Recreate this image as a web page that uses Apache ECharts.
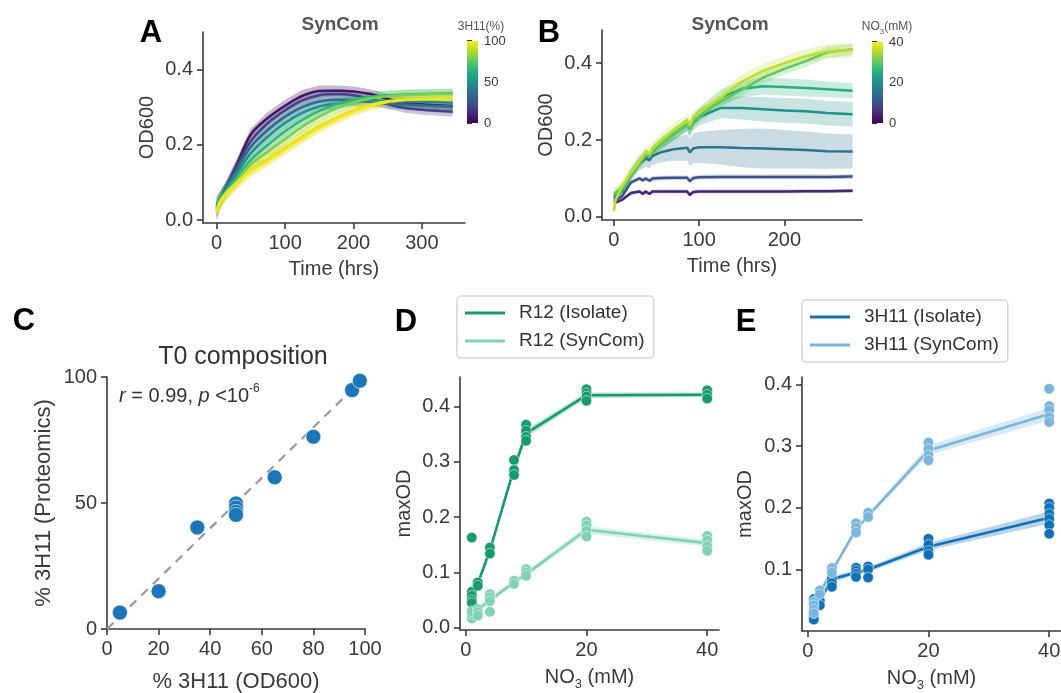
<!DOCTYPE html>
<html>
<head>
<meta charset="utf-8">
<script src="https://cdn.jsdelivr.net/npm/echarts@6/dist/echarts.min.js"></script>
<style>
  html, body { margin: 0; padding: 0; background: #fff; }
  #main { width: 1061px; height: 693px; }
</style>
</head>
<body>
<div id="main"></div>
<script>
// ---------- data ----------
// A: SynCom growth curves, one row per starting 3H11 %
var A_TIME = [0, 5, 15, 30, 50, 75, 100, 125, 150, 175, 200, 225, 250, 275, 300, 325, 345];
var A_PCT = [5, 20, 35, 50, 65, 80, 95, 98];
var A_OD = [
  [0.025, 0.05, 0.09, 0.15, 0.228, 0.272, 0.304, 0.33, 0.343, 0.344, 0.342, 0.335, 0.322, 0.312, 0.308, 0.305, 0.303],
  [0.03, 0.055, 0.09, 0.145, 0.21, 0.258, 0.292, 0.318, 0.332, 0.335, 0.332, 0.322, 0.308, 0.298, 0.293, 0.29, 0.288],
  [0.035, 0.055, 0.088, 0.135, 0.195, 0.24, 0.275, 0.3, 0.315, 0.32, 0.318, 0.314, 0.31, 0.307, 0.305, 0.303, 0.302],
  [0.04, 0.058, 0.085, 0.125, 0.178, 0.222, 0.258, 0.285, 0.302, 0.31, 0.315, 0.317, 0.317, 0.315, 0.314, 0.313, 0.312],
  [0.035, 0.055, 0.08, 0.115, 0.16, 0.2, 0.236, 0.266, 0.29, 0.308, 0.32, 0.328, 0.332, 0.334, 0.335, 0.336, 0.337],
  [0.03, 0.05, 0.075, 0.105, 0.148, 0.182, 0.215, 0.248, 0.275, 0.297, 0.313, 0.323, 0.329, 0.332, 0.334, 0.335, 0.335],
  [0.025, 0.05, 0.075, 0.1, 0.135, 0.163, 0.192, 0.222, 0.25, 0.272, 0.292, 0.307, 0.316, 0.32, 0.322, 0.323, 0.323],
  [0.02, 0.045, 0.07, 0.098, 0.13, 0.158, 0.188, 0.218, 0.245, 0.268, 0.288, 0.304, 0.314, 0.319, 0.321, 0.322, 0.322]
];
var A_HALF = [0.025, 0.02, 0.018, 0.016, 0.016, 0.016, 0.016, 0.016, 0.015, 0.014, 0.013, 0.013, 0.013, 0.013, 0.013, 0.013, 0.013];

// B: SynCom growth curves, one row per NO3 level
var B_TIME = [0, 2, 10, 20, 30, 34, 37, 42, 45, 55, 70, 86, 89, 93, 100, 125, 150, 175, 200, 225, 250, 280];
var B_NO3 = [4, 10, 15, 20, 25, 30, 36];
var B_OD = [
  [0.035, 0.04, 0.045, 0.062, 0.066, 0.06, 0.066, 0.06, 0.066, 0.066, 0.066, 0.066, 0.057, 0.065, 0.066, 0.066, 0.066, 0.066, 0.066, 0.067, 0.067, 0.068],
  [0.04, 0.045, 0.055, 0.09, 0.1, 0.095, 0.1, 0.094, 0.1, 0.101, 0.102, 0.102, 0.093, 0.101, 0.103, 0.104, 0.104, 0.104, 0.104, 0.104, 0.104, 0.105],
  [0.045, 0.05, 0.07, 0.11, 0.14, 0.145, 0.152, 0.148, 0.158, 0.168, 0.176, 0.18, 0.168, 0.178, 0.181, 0.181, 0.179, 0.178, 0.176, 0.174, 0.171, 0.17],
  [0.05, 0.055, 0.07, 0.11, 0.14, 0.15, 0.16, 0.155, 0.17, 0.19, 0.215, 0.24, 0.228, 0.245, 0.26, 0.283, 0.283, 0.28, 0.277, 0.275, 0.27, 0.267],
  [0.055, 0.06, 0.072, 0.11, 0.14, 0.15, 0.16, 0.155, 0.17, 0.19, 0.215, 0.24, 0.228, 0.248, 0.265, 0.31, 0.333, 0.34, 0.338, 0.335, 0.332, 0.328],
  [0.06, 0.062, 0.075, 0.11, 0.14, 0.15, 0.162, 0.157, 0.172, 0.19, 0.215, 0.24, 0.228, 0.25, 0.262, 0.3, 0.33, 0.362, 0.385, 0.405, 0.428, 0.436],
  [0.015, 0.045, 0.08, 0.115, 0.145, 0.158, 0.168, 0.163, 0.178, 0.198, 0.225, 0.25, 0.238, 0.258, 0.27, 0.31, 0.352, 0.38, 0.4, 0.418, 0.43, 0.434]
];
var B_HALF = [
  0.005,
  0.006,
  [0.01, 0.01, 0.012, 0.015, 0.018, 0.02, 0.021, 0.022, 0.023, 0.026, 0.03, 0.034, 0.036, 0.038, 0.04, 0.045, 0.05, 0.052, 0.05, 0.048, 0.046, 0.044],
  [0.012, 0.01, 0.01, 0.012, 0.012, 0.012, 0.012, 0.012, 0.013, 0.014, 0.016, 0.018, 0.02, 0.02, 0.022, 0.026, 0.03, 0.032, 0.032, 0.032, 0.032, 0.032],
  [0.012, 0.01, 0.01, 0.012, 0.012, 0.012, 0.012, 0.012, 0.013, 0.014, 0.015, 0.016, 0.016, 0.016, 0.017, 0.02, 0.022, 0.022, 0.022, 0.022, 0.02, 0.02],
  0.015,
  0.018
];

// C: T0 composition
var C_OD600 = [5, 20, 35, 50, 50, 50, 50, 65, 80, 95, 98];
var C_PROT = [6.5, 15, 40.3, 49.8, 48.2, 46.5, 45.3, 60.2, 76.3, 94.8, 98.5];
var C_DIAG = [0, 100];

// D / E: maxOD vs NO3
var NO3_LEVELS = [1, 2, 4, 8, 10, 20, 40];
var D_ISO_MEAN = [0.066, 0.08, 0.14, 0.288, 0.351, 0.42, 0.421];
var D_ISO_HALF = [0.02, 0.006, 0.006, 0.008, 0.007, 0.005, 0.004];
var D_SYN_MEAN = [0.025, 0.033, 0.05, 0.082, 0.097, 0.177, 0.153];
var D_SYN_HALF = [0.006, 0.005, 0.006, 0.004, 0.005, 0.007, 0.006];
var D_ISO_X = [1, 1, 1, 1, 1, 2, 2, 4, 4, 8, 8, 8, 10, 10, 10, 10, 20, 20, 20, 20, 40, 40, 40];
var D_ISO_Y = [0.163, 0.065, 0.058, 0.05, 0.045, 0.082, 0.076, 0.145, 0.134, 0.303, 0.285, 0.276, 0.367, 0.356, 0.345, 0.338, 0.431, 0.424, 0.418, 0.41, 0.429, 0.421, 0.414];
var D_SYN_X = [1, 1, 1, 2, 2, 2, 4, 4, 4, 4, 8, 8, 10, 10, 10, 20, 20, 20, 20, 40, 40, 40, 40];
var D_SYN_Y = [0.017, 0.025, 0.03, 0.034, 0.028, 0.022, 0.061, 0.055, 0.048, 0.029, 0.085, 0.079, 0.106, 0.1, 0.094, 0.192, 0.185, 0.175, 0.165, 0.166, 0.158, 0.148, 0.139];

var E_ISO_MEAN = [0.034, 0.05, 0.084, 0.095, 0.1, 0.137, 0.184];
var E_ISO_HALF = [0.008, 0.005, 0.005, 0.004, 0.004, 0.006, 0.01];
var E_SYN_MEAN = [0.04, 0.062, 0.097, 0.165, 0.187, 0.293, 0.352];
var E_SYN_HALF = [0.004, 0.004, 0.004, 0.005, 0.004, 0.008, 0.01];
var E_ISO_X = [1, 1, 1, 1, 1, 2, 2, 4, 4, 4, 4, 8, 8, 8, 8, 10, 10, 10, 20, 20, 20, 20, 40, 40, 40, 40, 40, 40];
var E_ISO_Y = [0.052, 0.045, 0.032, 0.025, 0.019, 0.05, 0.042, 0.102, 0.085, 0.078, 0.072, 0.103, 0.098, 0.093, 0.088, 0.105, 0.1, 0.087, 0.15, 0.14, 0.13, 0.124, 0.207, 0.2, 0.19, 0.182, 0.172, 0.158];
var E_SYN_X = [1, 1, 1, 1, 2, 2, 4, 4, 8, 8, 8, 10, 10, 20, 20, 20, 20, 40, 40, 40, 40, 40];
var E_SYN_Y = [0.048, 0.042, 0.035, 0.029, 0.066, 0.06, 0.1, 0.095, 0.175, 0.168, 0.16, 0.192, 0.185, 0.306, 0.295, 0.285, 0.277, 0.393, 0.365, 0.358, 0.347, 0.339];

// ---------- styling helpers ----------
var AX = '#3a3a3a', TXT = '#3a3a3a';
var FONT = '"Liberation Sans", Arial, sans-serif';
var VIRIDIS = ['#440154', '#482475', '#414487', '#355f8d', '#2a788e', '#21918c', '#22a884', '#44bf70', '#7ad151', '#bddf26', '#fde725'];

function hex2rgb(h) {
  return [parseInt(h.substr(1, 2), 16), parseInt(h.substr(3, 2), 16), parseInt(h.substr(5, 2), 16)];
}
function viridis(t) {
  t = Math.max(0, Math.min(1, t));
  var s = t * 10, i = Math.min(9, Math.floor(s)), f = s - i;
  var a = hex2rgb(VIRIDIS[i]), b = hex2rgb(VIRIDIS[i + 1]);
  return 'rgb(' + a.map(function (v, k) { return Math.round(v + (b[k] - v) * f); }).join(',') + ')';
}
function halfAt(h, i) { return Array.isArray(h) ? h[i] : h; }
function pairs(xs, ys) { return xs.map(function (x, i) { return [x, ys[i]]; }); }

// shaded band between lo and hi, drawn through the axis scales
function band(gi, xs, mean, half, color, opacity) {
  var lo = mean.map(function (v, i) { return v - halfAt(half, i); });
  var hi = mean.map(function (v, i) { return v + halfAt(half, i); });
  return {
    type: 'custom', xAxisIndex: gi, yAxisIndex: gi, silent: true, z: 1, clip: true,
    data: [[xs[0], mean[0]]],
    renderItem: function (params, api) {
      var pts = [];
      for (var i = 0; i < xs.length; i++) pts.push(api.coord([xs[i], hi[i]]));
      for (var j = xs.length - 1; j >= 0; j--) pts.push(api.coord([xs[j], lo[j]]));
      return { type: 'polygon', shape: { points: pts }, style: { fill: color, opacity: opacity } };
    }
  };
}

function colorbar(gi, maxV) {
  return {
    type: 'custom', xAxisIndex: gi, yAxisIndex: gi, silent: true, data: [[0, 0]],
    renderItem: function (params, api) {
      var p0 = api.coord([0, maxV]), p1 = api.coord([1, 0]);
      var stops = VIRIDIS.map(function (c, i) { return { offset: i / (VIRIDIS.length - 1), color: c }; });
      return {
        type: 'rect',
        shape: { x: p0[0], y: p0[1], width: p1[0] - p0[0], height: p1[1] - p0[1] },
        style: { fill: new echarts.graphic.LinearGradient(0, 1, 0, 0, stops) }
      };
    }
  };
}

function fmt1(v) { return v.toFixed(1); }

function valAxis(gi, min, max, ticks, fmt, name, gap, extra) {
  var a = {
    type: 'value', gridIndex: gi, min: min, max: max,
    name: name, nameLocation: 'middle', nameGap: gap,
    nameTextStyle: { color: TXT, fontSize: 20, fontFamily: FONT },
    axisLine: { show: true, onZero: false, lineStyle: { color: AX, width: 1.6 } },
    axisTick: { show: true, length: 6, lineStyle: { color: AX, width: 1.6 }, customValues: ticks },
    axisLabel: { color: TXT, fontSize: 20, fontFamily: FONT, margin: 10, customValues: ticks, formatter: fmt },
    splitLine: { show: false }
  };
  return Object.assign(a, extra || {});
}

var subRich = { s: { fontSize: 13, fontFamily: FONT, color: TXT, verticalAlign: 'bottom', lineHeight: 28 } };

// ---------- axes ----------
var xAxes = [
  valAxis(0, -20, 363, [0, 100, 200, 300], null, 'Time (hrs)', 36),
  valAxis(1, -14, 291, [0, 100, 200], null, 'Time (hrs)', 36),
  valAxis(2, 0, 100, [0, 20, 40, 60, 80, 100], null, '% 3H11 (OD600)', 42, { nameTextStyle: { color: TXT, fontSize: 22, fontFamily: FONT } }),
  valAxis(3, -0.95, 41.95, [0, 20, 40], null, 'NO{s|3} (mM)', 33, { nameTextStyle: { color: TXT, fontSize: 20, fontFamily: FONT, lineHeight: 28, rich: subRich } }),
  valAxis(4, -0.95, 41.95, [0, 20, 40], null, 'NO{s|3} (mM)', 33, { nameTextStyle: { color: TXT, fontSize: 20, fontFamily: FONT, lineHeight: 28, rich: subRich } }),
  { type: 'value', gridIndex: 5, min: 0, max: 1, show: false },
  { type: 'value', gridIndex: 6, min: 0, max: 1, show: false }
];
function cbAxis(gi, maxV) {
  return {
    type: 'value', gridIndex: gi, min: 0, max: maxV, interval: maxV / 2, position: 'right',
    axisLine: { show: false },
    axisTick: { show: true, length: 5, lineStyle: { color: AX, width: 2 } },
    axisLabel: { color: TXT, fontSize: 13, fontFamily: FONT, margin: 6 },
    splitLine: { show: false }
  };
}
var yAxes = [
  valAxis(0, -0.008, 0.5, [0, 0.2, 0.4], fmt1, 'OD600', 46),
  valAxis(1, -0.008, 0.486, [0, 0.2, 0.4], fmt1, 'OD600', 46),
  valAxis(2, 0, 100, [0, 50, 100], null, '% 3H11 (Proteomics)', 52, { nameTextStyle: { color: TXT, fontSize: 22, fontFamily: FONT } }),
  valAxis(3, -0.004, 0.453, [0, 0.1, 0.2, 0.3, 0.4], fmt1, 'maxOD', 46),
  valAxis(4, 0.0003, 0.412, [0.1, 0.2, 0.3, 0.4], fmt1, 'maxOD', 47),
  cbAxis(5, 100),
  cbAxis(6, 40)
];

// ---------- series ----------
var series = [];

A_PCT.forEach(function (p, k) {
  var c = viridis(p / 100);
  series.push(band(0, A_TIME, A_OD[k], A_HALF, c, 0.3));
  series.push({
    type: 'line', name: 'A ' + p, xAxisIndex: 0, yAxisIndex: 0, z: 2,
    data: pairs(A_TIME, A_OD[k]), symbol: 'none', smooth: 0.3,
    lineStyle: { color: c, width: 2.5 }, silent: true
  });
});

B_NO3.forEach(function (n, k) {
  var c = viridis(n / 40);
  series.push(band(1, B_TIME, B_OD[k], B_HALF[k], c, 0.25));
  series.push({
    type: 'line', name: 'B ' + n, xAxisIndex: 1, yAxisIndex: 1, z: 2,
    data: pairs(B_TIME, B_OD[k]), symbol: 'none',
    lineStyle: { color: c, width: 2.5 }, silent: true
  });
});

series.push({
  type: 'line', name: 'diag', xAxisIndex: 2, yAxisIndex: 2, z: 1,
  data: pairs(C_DIAG, C_DIAG), symbol: 'none',
  lineStyle: { color: '#9a9a9a', width: 2.2, type: [9, 7] }, silent: true
});
series.push({
  type: 'scatter', name: 'T0', xAxisIndex: 2, yAxisIndex: 2, z: 3,
  data: pairs(C_OD600, C_PROT), symbolSize: 15,
  itemStyle: { color: '#1a75b9', borderColor: '#fff', borderWidth: 0.6, opacity: 1 }
});

var D_DARK = '#179a6d', D_LIGHT = '#80d2b7';
var E_DARK = '#1271b6', E_LIGHT = '#7ab6dc';
function groupSeries(gi, mean, half, px, py, color, name) {
  return [
    band(gi, NO3_LEVELS, mean, half, color, 0.3),
    {
      type: 'line', name: name, xAxisIndex: gi, yAxisIndex: gi, z: 2,
      data: pairs(NO3_LEVELS, mean), symbol: 'none',
      lineStyle: { color: color, width: 2.6 }, itemStyle: { color: color }
    },
    {
      type: 'scatter', name: name + ' pts', xAxisIndex: gi, yAxisIndex: gi, z: 3,
      data: pairs(px, py), symbolSize: 10.5,
      itemStyle: { color: color, borderColor: '#fff', borderWidth: 0.5, opacity: 1 }
    }
  ];
}
series = series.concat(
  groupSeries(3, D_ISO_MEAN, D_ISO_HALF, D_ISO_X, D_ISO_Y, D_DARK, 'R12 (Isolate)'),
  groupSeries(3, D_SYN_MEAN, D_SYN_HALF, D_SYN_X, D_SYN_Y, D_LIGHT, 'R12 (SynCom)'),
  groupSeries(4, E_ISO_MEAN, E_ISO_HALF, E_ISO_X, E_ISO_Y, E_DARK, '3H11 (Isolate)'),
  groupSeries(4, E_SYN_MEAN, E_SYN_HALF, E_SYN_X, E_SYN_Y, E_LIGHT, '3H11 (SynCom)')
);
series.push(colorbar(5, 100));
series.push(colorbar(6, 40));

// ---------- legends ----------
function legendAt(left, top, names) {
  return {
    data: names, left: left, top: top, orient: 'vertical', selectedMode: false,
    icon: 'rect', itemWidth: 40, itemHeight: 3, itemGap: 6,
    padding: [6, 9, 6, 8],
    borderColor: '#d6d6d6', borderWidth: 1.5, borderRadius: 4, backgroundColor: '#fff',
    textStyle: { color: '#333', fontSize: 19, fontFamily: FONT, lineHeight: 22, padding: [0, 0, 0, 9] }
  };
}

// ---------- texts ----------
function txt(x, y, text, size, weight, color, extra) {
  return {
    type: 'text', x: x, y: y, silent: true,
    style: Object.assign({
      text: text, fontSize: size, fontWeight: weight, fontFamily: FONT, fill: color,
      align: 'center', verticalAlign: 'middle'
    }, extra || {})
  };
}
var graphics = [
  txt(151, 33, 'A', 31, 'bold', '#000'),
  txt(549, 33, 'B', 31, 'bold', '#000'),
  txt(24, 321, 'C', 31, 'bold', '#000'),
  txt(406, 322, 'D', 31, 'bold', '#000'),
  txt(746, 322, 'E', 31, 'bold', '#000'),
  txt(340, 25, 'SynCom', 19, 'bold', '#555'),
  txt(730, 25, 'SynCom', 19, 'bold', '#555'),
  txt(481, 27, '3H11(%)', 12, 'normal', '#555'),
  txt(887, 27, 'NO{s|3}(mM)', 12, 'normal', '#555', { rich: { s: { fontSize: 8, fontFamily: FONT, fill: '#555', verticalAlign: 'bottom', lineHeight: 17 } } }),
  txt(243, 357, 'T0 composition', 25, 'normal', '#333'),
  txt(119, 396, '{i|r} = 0.99, {i|p} <10{sup|-6}', 20, 'normal', '#333', {
    align: 'left',
    rich: {
      i: { fontStyle: 'italic', fontSize: 20, fontFamily: FONT, fill: '#333', lineHeight: 26 },
      sup: { fontSize: 12, fontFamily: FONT, fill: '#333', verticalAlign: 'top', lineHeight: 26 }
    }
  })
];

var chart = echarts.init(document.getElementById('main'), null, { renderer: 'canvas' });
chart.setOption({
  animation: false,
  backgroundColor: '#fff',
  textStyle: { fontFamily: FONT },
  grid: [
    { left: 203, top: 32, width: 262, height: 191 },
    { left: 602, top: 30, width: 260, height: 190 },
    { left: 107, top: 377, width: 258, height: 252 },
    { left: 460, top: 377, width: 259, height: 253 },
    { left: 802, top: 377, width: 259, height: 254 },
    { left: 467, top: 41, width: 11, height: 82 },
    { left: 872, top: 42, width: 11, height: 81 }
  ].map(function (g) { return Object.assign(g, { outerBoundsMode: 'none', containLabel: false }); }),
  xAxis: xAxes,
  yAxis: yAxes,
  legend: [
    legendAt(457, 296, ['R12 (Isolate)', 'R12 (SynCom)']),
    legendAt(802, 300, ['3H11 (Isolate)', '3H11 (SynCom)'])
  ],
  graphic: { elements: graphics },
  series: series
});
</script>
</body>
</html>
